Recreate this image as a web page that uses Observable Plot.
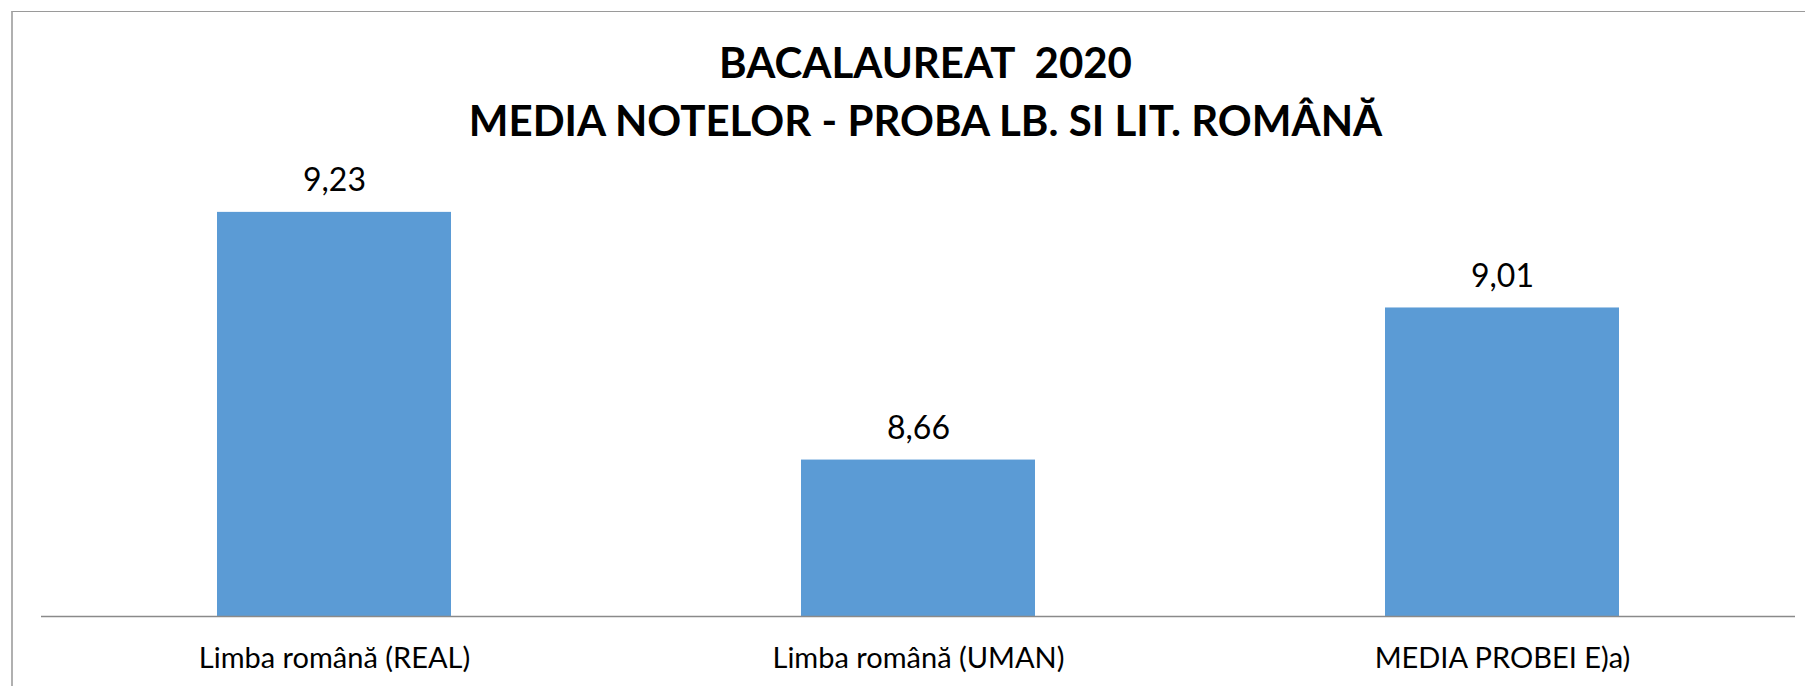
<!DOCTYPE html>
<html>
<head>
<meta charset="utf-8">
<script src="https://cdn.jsdelivr.net/npm/d3@7"></script>
<script src="https://cdn.jsdelivr.net/npm/@observablehq/plot@0.6"></script>
<style>
  html, body { margin: 0; padding: 0; background: #ffffff; }
  #page { position: relative; width: 1805px; height: 686px; overflow: hidden; background: #ffffff; }
  #frame { position: absolute; left: 11px; top: 11px; width: 1900px; height: 800px;
           border-top: 1px solid #9a9a9a; border-left: 2px solid #b0b0b0; pointer-events: none; }
  #title { height: 140px; box-sizing: border-box; padding-top: 33px; padding-left: 46px;
           width: 1805px; text-align: center; font-family: Lato, "Open Sans", sans-serif;
           font-weight: 700; font-size: 42px; line-height: 58px; color: #000; white-space: pre; }
  #chart svg { display: block; }
</style>
</head>
<body>
<div id="page">
  <div id="title"></div>
  <div id="chart"></div>
  <div id="frame"></div>
</div>
<script>
const titleLines = ["BACALAUREAT  2020", "MEDIA NOTELOR - PROBA LB. SI LIT. ROMÂNĂ"];
const categories = ["Limba română (REAL)", "Limba română (UMAN)", "MEDIA PROBEI E)a)"];
const values = [9.23, 8.66, 9.01];
const yDomain = [8.3, 9.4];

const data = categories.map((c, i) => ({cat: c, value: values[i], label: values[i].toFixed(2).replace(".", ",")}));

document.getElementById("title").textContent = titleLines.join("\n");

const chart = Plot.plot({
  width: 1805,
  height: 546,
  marginLeft: 41,
  marginRight: 10,
  marginTop: 0,
  marginBottom: 70,
  x: {type: "band", domain: categories, paddingInner: 0.6, paddingOuter: 0.3, label: null},
  y: {domain: yDomain, range: [476, -2], axis: null},
  style: {fontFamily: "Lato, 'Open Sans', sans-serif", background: "#ffffff", color: "#000000", overflow: "visible"},
  marks: [
    Plot.barY(data, {x: "cat", y1: yDomain[0], y2: "value", fill: "#5b9bd5"}),
    Plot.ruleY([yDomain[0]], {stroke: "#8a8a8a", strokeWidth: 1.5}),
    Plot.text(data, {x: "cat", y: "value", text: "label", dy: -21, lineAnchor: "bottom", fontSize: 32, fill: "#000000"}),
    Plot.axisX({tickSize: 0, tickPadding: 31, fontSize: 29, fill: "#000000", label: null})
  ]
});
document.getElementById("chart").appendChild(chart);
</script>
</body>
</html>
